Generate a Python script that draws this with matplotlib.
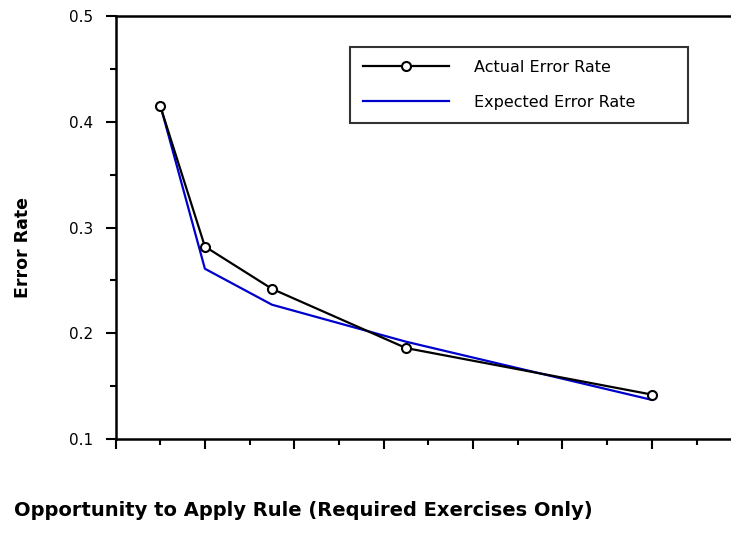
import matplotlib
matplotlib.use("Agg")
import matplotlib.pyplot as plt
from matplotlib.ticker import MultipleLocator, NullFormatter

# opportunity index (x) and error rates
opportunity = [1, 2, 3.5, 6.5, 12]
actual_rate = [0.415, 0.282, 0.242, 0.186, 0.142]
expected_rate = [0.416, 0.261, 0.227, 0.192, 0.137]
y_ticks = [0.1, 0.2, 0.3, 0.4, 0.5]

plt.rcParams["font.family"] = ["DejaVu Sans"]

fig = plt.figure(figsize=(7.31, 5.35), dpi=100)
ax = fig.add_axes([115.5 / 731, 1 - 439 / 535, 1 - 115.5 / 731, (439 - 16) / 535])

ax.plot(opportunity, actual_rate, color="black", lw=1.6, marker="o", ms=6.5,
        mfc="white", mec="black", mew=1.5, label="Actual Error Rate", zorder=3)
ax.plot(opportunity, expected_rate, color="#0000cc", lw=1.6,
        label="Expected Error Rate", zorder=2)

ax.set_xlim(0, 13.77)
ax.set_ylim(0.1, 0.5)
ax.set_yticks(y_ticks)
ax.set_yticklabels([f"{v:.1f}" for v in y_ticks])
ax.yaxis.set_minor_locator(MultipleLocator(0.05))
ax.xaxis.set_major_locator(MultipleLocator(2))
ax.xaxis.set_minor_locator(MultipleLocator(1))
ax.xaxis.set_major_formatter(NullFormatter())

for side in ("left", "bottom", "top"):
    ax.spines[side].set_linewidth(1.8)
ax.spines["right"].set_visible(False)
ax.tick_params(which="major", length=7, width=1.5, labelsize=11, pad=9)
ax.tick_params(which="minor", length=4, width=1.5)

ax.set_ylabel("Error Rate", fontsize=12.5, fontweight="bold")
ax.yaxis.set_label_coords(-0.136, 0.452)
fig.text(14 / 731, 1 - 510 / 535, "Opportunity to Apply Rule (Required Exercises Only)",
         fontsize=14, fontweight="bold", ha="left", va="center")

x0 = (350 - 115.5) / (731 - 115.5)
x1 = (688 - 115.5) / (731 - 115.5)
y1 = 1 - (47 - 16) / 423
leg = ax.legend(loc="upper left", bbox_to_anchor=(x0, y1 - 0.2, x1 - x0, 0.2),
                mode="expand", fontsize=11.5, frameon=True, fancybox=False,
                handlelength=5.4, handletextpad=1.55, labelspacing=1.25,
                borderpad=0.8, borderaxespad=0)
leg.get_frame().set_edgecolor("black")
leg.get_frame().set_linewidth(1.5)

fig.savefig("out.png", dpi=100)
